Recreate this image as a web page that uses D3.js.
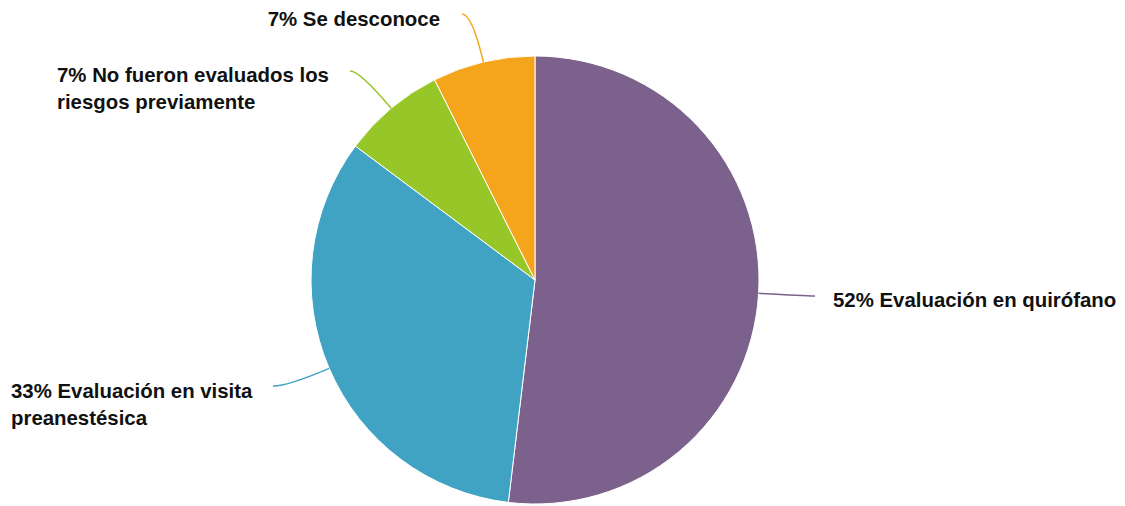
<!DOCTYPE html>
<html>
<head>
<meta charset="utf-8">
<script src="https://cdn.jsdelivr.net/npm/d3@7"></script>
<style>
  html, body { margin: 0; padding: 0; background: #fff; }
  svg { display: block; }
  text { font-family: "Liberation Sans", Arial, Helvetica, sans-serif; font-weight: bold; font-size: 20.4px; fill: #111; }
</style>
</head>
<body>
<svg id="chart" width="1125" height="506"></svg>
<script>
// Answers to: how were the anaesthetic risks assessed?
const categories = [
  "Evaluación en quirófano",
  "Evaluación en visita preanestésica",
  "No fueron evaluados los riesgos previamente",
  "Se desconoce"
];
const shares = [51.9, 33.3, 7.4, 7.4];   // percent of responses
const colors = ["#7c618d", "#41a3c4", "#97c629", "#f4a51b"];

// Label lines (broken by hand) and where each leader line ends
const labelLines = [
  ["52% Evaluación en quirófano"],
  ["33% Evaluación en visita", "preanestésica"],
  ["7% No fueron evaluados los", "riesgos previamente"],
  ["7% Se desconoce"]
];
const leaderEnds = [[815, 296], [273, 386], [350, 71], [462, 14]];
const labelPos = [
  { x: 833, y: 307, anchor: "start" },
  { x: 11,  y: 398, anchor: "start" },
  { x: 57,  y: 82,  anchor: "start" },
  { x: 440, y: 26,  anchor: "end" }
];

const cx = 535, cy = 280, radius = 224, lineHeight = 27;
const svg = d3.select("#chart");
const g = svg.append("g").attr("transform", `translate(${cx},${cy})`);

const pie = d3.pie().sort(null).value(d => d);
const arcs = pie(shares);
const arc = d3.arc().innerRadius(0).outerRadius(radius);

g.selectAll("path.slice")
  .data(arcs)
  .join("path")
  .attr("class", "slice")
  .attr("d", arc)
  .attr("fill", (d, i) => colors[i])
  .attr("stroke", "#fff")
  .attr("stroke-width", 1);

// Curved leader lines: leave the rim radially, arrive horizontally
const leaders = svg.append("g");
arcs.forEach((d, i) => {
  const mid = (d.startAngle + d.endAngle) / 2;
  const dx = Math.sin(mid), dy = -Math.cos(mid);
  const sx = cx + radius * dx, sy = cy + radius * dy;
  const [ex, ey] = leaderEnds[i];
  const t = Math.abs(dy) > 0.05 ? (ey - sy) / dy : (ex - sx) / dx * 0.9;
  const qx = sx + dx * t;
  const p = d3.path();
  p.moveTo(sx, sy);
  p.quadraticCurveTo(qx, ey, ex, ey);
  leaders.append("path")
    .attr("d", p.toString())
    .attr("fill", "none")
    .attr("stroke", colors[i])
    .attr("stroke-width", 1.5);
});

const labels = svg.append("g");
labelLines.forEach((lines, i) => {
  const pos = labelPos[i];
  const txt = labels.append("text")
    .attr("x", pos.x)
    .attr("y", pos.y)
    .attr("text-anchor", pos.anchor);
  lines.forEach((line, j) => {
    txt.append("tspan")
      .attr("x", pos.x)
      .attr("dy", j === 0 ? 0 : lineHeight)
      .text(line);
  });
});
</script>
</body>
</html>
